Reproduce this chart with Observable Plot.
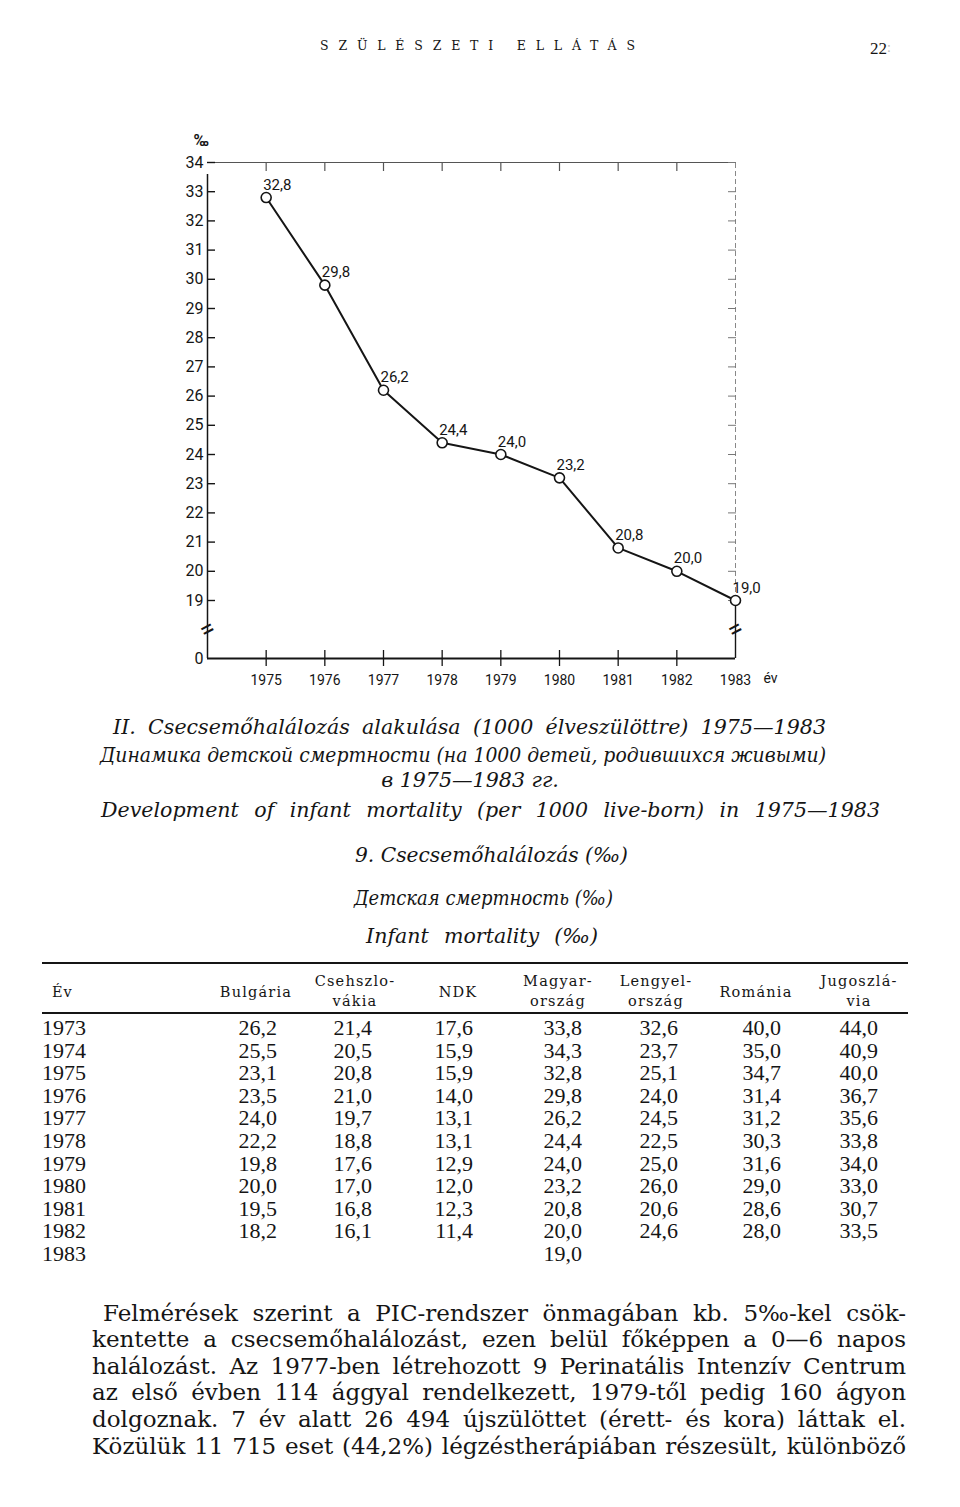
<!DOCTYPE html>
<html><head><meta charset="utf-8">
<script src="https://cdn.jsdelivr.net/npm/d3@7"></script>
<script src="https://cdn.jsdelivr.net/npm/@observablehq/plot@0.6"></script>
<style>
html,body{margin:0;padding:0;background:#fff;}
#page{position:relative;width:960px;height:1507px;overflow:hidden;background:#fff;color:#151515;}
.rule{position:absolute;background:#151515;}
</style></head>
<body><div id="page"></div>
<script>
// ---------- chart data ----------
const years = [1975, 1976, 1977, 1978, 1979, 1980, 1981, 1982, 1983];
const infantMortality = [32.8, 29.8, 26.2, 24.4, 24.0, 23.2, 20.8, 20.0, 19.0];
const tickYears = [1975, 1976, 1977, 1978, 1979, 1980, 1981, 1982];
const yTicks = [19, 20, 21, 22, 23, 24, 25, 26, 27, 28, 29, 30, 31, 32, 33, 34];
const yLabelTicks = [0, 19, 20, 21, 22, 23, 24, 25, 26, 27, 28, 29, 30, 31, 32, 33, 34];

// ---------- table data ----------
const tableYears = [1973, 1974, 1975, 1976, 1977, 1978, 1979, 1980, 1981, 1982, 1983];
const bulgaria      = [26.2, 25.5, 23.1, 23.5, 24.0, 22.2, 19.8, 20.0, 19.5, 18.2, null];
const csehszlovakia = [21.4, 20.5, 20.8, 21.0, 19.7, 18.8, 17.6, 17.0, 16.8, 16.1, null];
const ndk           = [17.6, 15.9, 15.9, 14.0, 13.1, 13.1, 12.9, 12.0, 12.3, 11.4, null];
const magyarorszag  = [33.8, 34.3, 32.8, 29.8, 26.2, 24.4, 24.0, 23.2, 20.8, 20.0, 19.0];
const lengyelorszag = [32.6, 23.7, 25.1, 24.0, 24.5, 22.5, 25.0, 26.0, 20.6, 24.6, null];
const romania       = [40.0, 35.0, 34.7, 31.4, 31.2, 30.3, 31.6, 29.0, 28.6, 28.0, null];
const jugoszlavia   = [44.0, 40.9, 40.0, 36.7, 35.6, 33.8, 34.0, 33.0, 30.7, 33.5, null];
const columnHeads = [["Bulgária"], ["Csehszlo-", "vákia"], ["NDK"], ["Magyar-", "ország"], ["Lengyel-", "ország"], ["Románia"], ["Jugoszlá-", "via"]];

// ---------- texts ----------
const runningHead = "SZÜLÉSZETI ELLÁTÁS";
const pageNumber = "22";
const captionLines = [
  "II. Csecsemőhalálozás alakulása (1000 élveszülöttre) 1975—1983",
  "Динамика детской смертности (на 1000 детей, родившихся живыми)",
  "в 1975—1983 гг.",
  "Development of infant mortality (per 1000 live-born) in 1975—1983"
];
const tableTitles = ["9. Csecsemőhalálozás (‰)", "Детская смертность (‰)", "Infant mortality (‰)"];
const paragraph = [
  "Felmérések szerint a PIC-rendszer önmagában kb. 5‰-kel csök-",
  "kentette a csecsemőhalálozást, ezen belül főképpen a 0—6 napos",
  "halálozást. Az 1977-ben létrehozott 9 Perinatális Intenzív Centrum",
  "az első évben 114 ággyal rendelkezett, 1979-től pedig 160 ágyon",
  "dolgoznak. 7 év alatt 26 494 újszülöttet (érett- és kora) láttak el.",
  "Közülük 11 715 eset (44,2%) légzéstherápiában részesült, különböző"
];

const fmt = v => v.toFixed(1).replace(".", ",");
const page = document.getElementById("page");
const SERIF = "'Liberation Serif', 'Times New Roman', serif";
const DSERIF = "'DejaVu Serif', serif";

const ctx = document.createElement("canvas").getContext("2d");
function measure(text, size, family, style = "normal") {
  ctx.font = `${style} ${size}px ${family}`;
  return ctx.measureText(text).width;
}
// common font size so the lines' natural width is slightly under their target widths
function fitSize(lines, targets, family, style, base, slack) {
  const f = lines.map((t, i) => targets[i] / measure(t, base, family, style)).filter(Number.isFinite);
  return base * d3.median(f) * slack;
}

function place(text, o) {
  const s = document.createElement("span");
  s.textContent = text;
  Object.assign(s.style, {
    position: "absolute", whiteSpace: "pre", fontSize: o.size + "px",
    fontFamily: o.family || SERIF, fontStyle: o.style || "normal",
    fontWeight: o.weight || "normal", lineHeight: "1", color: o.color || "#151515",
    left: "0px", top: "0px", letterSpacing: (o.ls || 0) + "px"
  });
  page.appendChild(s);
  let w = s.getBoundingClientRect().width;
  if (o.w) {
    if (o.mode === "letter") {
      const n = [...text].length - 1;
      s.style.letterSpacing = ((o.w - w) / n) + "px";
    } else {
      const n = (text.match(/ /g) || []).length;
      if (n && o.w > w) s.style.wordSpacing = ((o.w - w) / n) + "px";
      else if (w > o.w) { s.style.transformOrigin = "left center"; s.style.transform = `scaleX(${o.w / w})`; }
    }
    w = o.w;
  }
  let left = o.x;
  if (o.anchor === "middle") left = o.x - w / 2;
  else if (o.anchor === "end") left = o.x - w;
  s.style.left = left + "px";
  s.style.top = (o.y - o.size / 2) + "px";
  return s;
}
function rule(x, y, w, h) {
  const d = document.createElement("div");
  d.className = "rule";
  Object.assign(d.style, {left: x + "px", top: y + "px", width: w + "px", height: h + "px"});
  page.appendChild(d);
}

// running head
place(runningHead, {x: 320, y: 46, w: 315, size: 12.5, family: DSERIF, mode: "letter"});
place(pageNumber, {x: 870, y: 48, size: 17, family: SERIF});
place(":", {x: 887, y: 48, size: 14, family: SERIF, color: "#bbb"});

// ---------- chart ----------
const data = years.map((year, i) => ({year, value: infantMortality[i]}));
const breaks = [{x: d3.min(years) - 1}, {x: d3.max(years)}];
const yMin = d3.min(yTicks), yMax = d3.max(yTicks);
const breakValue = yMin / 2;

const chart = Plot.plot({
  width: 960, height: 600,
  marginLeft: 207, marginRight: 225, marginTop: 62, marginBottom: 42,
  style: {fontFamily: "Roboto, sans-serif", color: "#151515", background: "transparent", overflow: "visible"},
  x: {domain: [d3.min(years) - 1, d3.max(years)]},
  // piecewise linear scale with an axis break between 0 and 19
  y: {type: "linear", domain: [0, yMin, yMax], range: [558, 500, 62]},
  marks: [
    Plot.ruleY([yMax], {stroke: "#555", strokeWidth: 1.2}),
    Plot.ruleX([d3.max(years)], {y1: yMin, y2: yMax, stroke: "#888", strokeWidth: 1, strokeDasharray: "5,3"}),
    Plot.ruleX([d3.max(years)], {y1: 0, y2: yMin, stroke: "#151515", strokeWidth: 1.4}),
    Plot.ruleX([d3.min(years) - 1], {y1: 0, y2: yMax, stroke: "#151515", strokeWidth: 1.5, insetBottom: -12}),
    Plot.ruleY([0], {stroke: "#151515", strokeWidth: 1.8}),
    Plot.axisY(yTicks, {anchor: "left", tickSize: 8, dx: 8, tickFormat: () => "", label: null, strokeWidth: 1.4}),
    Plot.axisY(yLabelTicks, {anchor: "left", tickSize: 0, tickPadding: 4, tickFormat: d => String(d), fontSize: 16, label: null}),
    Plot.axisY(yTicks, {anchor: "right", tickSize: 8, dx: -8, tickFormat: () => "", label: null, stroke: "#777"}),
    Plot.axisX(tickYears, {anchor: "top", tickSize: 8, dy: 8, tickFormat: () => "", label: null, stroke: "#555", strokeWidth: 1.2}),
    Plot.axisX(tickYears, {anchor: "bottom", tickSize: 16, dy: -8, tickFormat: () => "", label: null, strokeWidth: 1.3}),
    Plot.axisX(years, {anchor: "bottom", tickSize: 0, tickPadding: 17, tickFormat: d => String(d), fontSize: 14, label: null}),
    Plot.line(data, {x: "year", y: "value", stroke: "#151515", strokeWidth: 2}),
    Plot.dot(data, {x: "year", y: "value", r: 5, fill: "white", stroke: "#151515", strokeWidth: 1.6}),
    Plot.text(data, {x: "year", y: "value", text: d => fmt(d.value), textAnchor: "start", lineAnchor: "bottom", dx: -3, dy: -8, fontSize: 15, fill: "#151515"}),
    Plot.text(breaks, {x: "x", y: () => breakValue, text: () => "=", rotate: -28, fontSize: 26, fill: "#151515"}),
    Plot.text(["‰"], {frameAnchor: "top-left", dx: -14, dy: -28, fontSize: 16, fontWeight: "bold"}),
    Plot.text(["év"], {frameAnchor: "bottom-right", textAnchor: "start", dx: 28, dy: 24, fontSize: 14})
  ]
});
chart.style.position = "absolute";
chart.style.left = "0px";
chart.style.top = "100px";
page.appendChild(chart);

// ---------- captions ----------
const capSize = fitSize([captionLines[0], captionLines[1], captionLines[3]], [713, 726, 779], DSERIF, "italic", 18, 0.96);
place(captionLines[0], {x: 113, y: 727, w: 713, size: capSize, family: DSERIF, style: "italic"});
place(captionLines[1], {x: 100, y: 755, w: 726, size: capSize, family: DSERIF, style: "italic"});
place(captionLines[2], {x: 470, y: 780, size: capSize, family: DSERIF, style: "italic", anchor: "middle"});
place(captionLines[3], {x: 101, y: 810, w: 779, size: capSize, family: DSERIF, style: "italic"});
place(tableTitles[0], {x: 355, y: 855, w: 273, size: capSize, family: DSERIF, style: "italic"});
place(tableTitles[1], {x: 354, y: 898, w: 259, size: capSize, family: DSERIF, style: "italic"});
place(tableTitles[2], {x: 366, y: 936, w: 232, size: capSize, family: DSERIF, style: "italic"});

// ---------- table ----------
rule(42, 962, 866, 2);
rule(42, 1012, 866, 1.6);
place("Év", {x: 52, y: 992, size: 14.5, family: DSERIF, ls: 1});
const headCenters = [256, 355, 458, 558, 656, 756, 859];
const numRights = [277, 372, 473, 582, 678, 781, 878];
columnHeads.forEach((lines, c) => {
  if (lines.length === 1) place(lines[0], {x: headCenters[c], y: 992, size: 14.5, family: DSERIF, ls: 1.2, anchor: "middle"});
  else lines.forEach((t, k) => place(t, {x: headCenters[c], y: 981 + k * 20, size: 14.5, family: DSERIF, ls: 1.2, anchor: "middle"}));
});
const columns = [bulgaria, csehszlovakia, ndk, magyarorszag, lengyelorszag, romania, jugoszlavia];
tableYears.forEach((yr, r) => {
  const y = 1028 + r * 22.6;
  place(String(yr), {x: 42, y, size: 22, family: SERIF});
  columns.forEach((col, c) => {
    if (col[r] != null) place(fmt(col[r]), {x: numRights[c], y, size: 22, family: SERIF, anchor: "end"});
  });
});

// ---------- paragraph ----------
const paraLeft = paragraph.map((t, i) => i === 0 ? 103 : 92);
const paraSize = Math.min(23, fitSize(paragraph, paraLeft.map(x => 906 - x), DSERIF, "normal", 20, 0.97));
paragraph.forEach((t, i) => {
  const x = paraLeft[i];
  place(t, {x, y: 1313 + i * 26.6, w: 906 - x, size: paraSize, family: DSERIF});
});
</script>
</body></html>
